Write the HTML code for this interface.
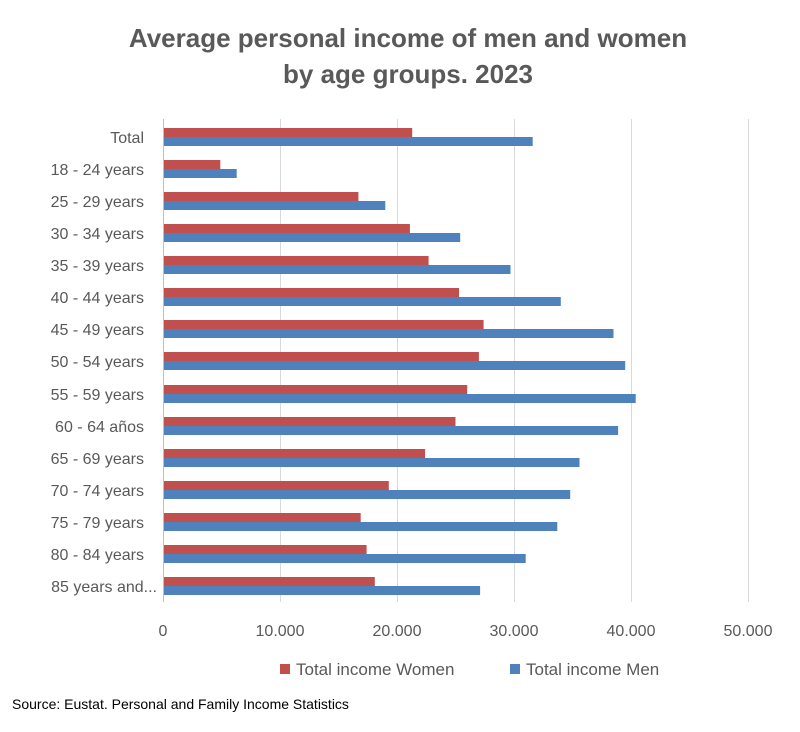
<!DOCTYPE html>
<html><head><meta charset="utf-8"><style>body{margin:0;background:#fff}svg{display:block}</style></head><body>
<svg width="800" height="732" xmlns="http://www.w3.org/2000/svg" font-family="Liberation Sans, sans-serif">
<text x="408" y="47" text-anchor="middle" font-size="26" font-weight="bold" fill="#595959">Average personal income of men and women</text>
<text x="408" y="83" text-anchor="middle" font-size="26" font-weight="bold" fill="#595959">by age groups. 2023</text>
<g stroke="#d9d9d9" stroke-width="1">
<line x1="280.5" y1="119" x2="280.5" y2="602"/><line x1="397.5" y1="119" x2="397.5" y2="602"/><line x1="514.5" y1="119" x2="514.5" y2="602"/><line x1="631.5" y1="119" x2="631.5" y2="602"/><line x1="748.5" y1="119" x2="748.5" y2="602"/>
</g>
<line x1="163.5" y1="119" x2="163.5" y2="602" stroke="#bfbfbf"/>
<g fill="#c0504d">
<rect x="164" y="128" width="248.2" height="9"/>
<rect x="164" y="160" width="56.3" height="9"/>
<rect x="164" y="192" width="194.4" height="9"/>
<rect x="164" y="224" width="245.9" height="9"/>
<rect x="164" y="256" width="264.6" height="9"/>
<rect x="164" y="288" width="295.0" height="9"/>
<rect x="164" y="320" width="319.6" height="9"/>
<rect x="164" y="352" width="314.9" height="9"/>
<rect x="164" y="385" width="303.2" height="9"/>
<rect x="164" y="417" width="291.5" height="9"/>
<rect x="164" y="449" width="261.1" height="9"/>
<rect x="164" y="481" width="224.8" height="9"/>
<rect x="164" y="513" width="196.7" height="9"/>
<rect x="164" y="545" width="202.6" height="9"/>
<rect x="164" y="577" width="210.8" height="9"/>
</g>
<g fill="#4f81bd">
<rect x="164" y="137" width="368.7" height="9"/>
<rect x="164" y="169" width="72.7" height="9"/>
<rect x="164" y="201" width="221.3" height="9"/>
<rect x="164" y="233" width="296.2" height="9"/>
<rect x="164" y="265" width="346.5" height="9"/>
<rect x="164" y="297" width="396.8" height="9"/>
<rect x="164" y="329" width="449.5" height="9"/>
<rect x="164" y="361" width="461.2" height="9"/>
<rect x="164" y="394" width="471.7" height="9"/>
<rect x="164" y="426" width="454.1" height="9"/>
<rect x="164" y="458" width="415.5" height="9"/>
<rect x="164" y="490" width="406.2" height="9"/>
<rect x="164" y="522" width="393.3" height="9"/>
<rect x="164" y="554" width="361.7" height="9"/>
<rect x="164" y="586" width="316.1" height="9"/>
</g>
<g font-size="16" fill="#595959" text-anchor="end">
<text x="144" y="143">Total</text>
<text x="144" y="175">18 - 24 years</text>
<text x="144" y="207">25 - 29 years</text>
<text x="144" y="239">30 - 34 years</text>
<text x="144" y="271">35 - 39 years</text>
<text x="144" y="303">40 - 44 years</text>
<text x="144" y="335">45 - 49 years</text>
<text x="144" y="367">50 - 54 years</text>
<text x="144" y="400">55 - 59 years</text>
<text x="144" y="432">60 - 64 años</text>
<text x="144" y="464">65 - 69 years</text>
<text x="144" y="496">70 - 74 years</text>
<text x="144" y="528">75 - 79 years</text>
<text x="144" y="560">80 - 84 years</text>
<text x="157" y="592">85 years and...</text>
</g>
<g font-size="16" fill="#595959" text-anchor="middle">
<text x="163" y="636">0</text><text x="280" y="636">10.000</text><text x="397" y="636">20.000</text><text x="514" y="636">30.000</text><text x="631" y="636">40.000</text><text x="748" y="636">50.000</text>
</g>
<rect x="280" y="664" width="10" height="10" fill="#c0504d"/><text x="296" y="675" font-size="17" fill="#595959">Total income Women</text>
<rect x="510" y="664" width="10" height="10" fill="#4f81bd"/><text x="526" y="675" font-size="17" fill="#595959">Total income Men</text>
<text x="12" y="709" font-size="14" fill="#000">Source: Eustat. Personal and Family Income Statistics</text>
</svg>
</body></html>
